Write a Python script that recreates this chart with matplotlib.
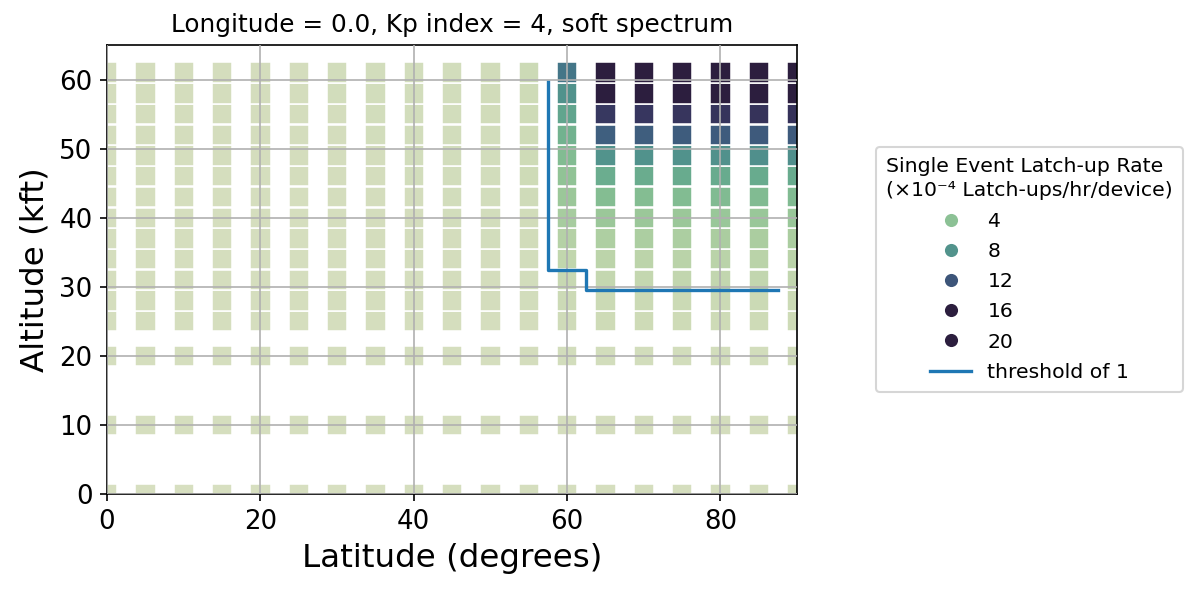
import numpy as np
import pandas as pd
import matplotlib
matplotlib.use("Agg")
import matplotlib.pyplot as plt
from matplotlib.colors import Normalize
from matplotlib.lines import Line2D
from matplotlib.ticker import MaxNLocator
import seaborn as sns

# latitude columns (degrees) and altitude rows (kft)
lats = [0, 5, 10, 15, 20, 25, 30, 35, 40, 45, 50, 55, 60, 65, 70, 75, 80, 85, 90]
alts = [0, 10, 20, 25, 28, 31, 34, 37, 40, 43, 46, 49, 52, 55, 58, 61]

# SEL rate (x1e-4 latch-ups/hr/device), one list per altitude, across lats
rate_0 = [0.05, 0.05, 0.05, 0.05, 0.05, 0.06, 0.06, 0.06, 0.07, 0.07, 0.08, 0.09, 0.11, 0.13, 0.14, 0.14, 0.15, 0.15, 0.15]
rate_10 = [0.07, 0.07, 0.07, 0.07, 0.08, 0.08, 0.09, 0.09, 0.10, 0.11, 0.12, 0.14, 0.17, 0.20, 0.21, 0.21, 0.22, 0.22, 0.22]
rate_20 = [0.09, 0.09, 0.09, 0.10, 0.10, 0.11, 0.11, 0.12, 0.13, 0.14, 0.16, 0.20, 0.26, 0.31, 0.32, 0.33, 0.33, 0.34, 0.34]
rate_25 = [0.10, 0.10, 0.10, 0.11, 0.11, 0.12, 0.13, 0.14, 0.15, 0.16, 0.18, 0.24, 0.45, 0.52, 0.53, 0.54, 0.55, 0.55, 0.56]
rate_28 = [0.11, 0.11, 0.11, 0.12, 0.12, 0.13, 0.14, 0.15, 0.16, 0.18, 0.20, 0.27, 0.68, 0.75, 0.77, 0.78, 0.79, 0.80, 0.80]
rate_31 = [0.12, 0.12, 0.12, 0.13, 0.13, 0.14, 0.15, 0.16, 0.18, 0.20, 0.22, 0.31, 0.92, 1.10, 1.12, 1.14, 1.15, 1.16, 1.16]
rate_34 = [0.13, 0.13, 0.13, 0.14, 0.14, 0.15, 0.16, 0.18, 0.19, 0.21, 0.24, 0.35, 1.30, 1.60, 1.62, 1.65, 1.66, 1.67, 1.68]
rate_37 = [0.14, 0.14, 0.14, 0.15, 0.15, 0.16, 0.17, 0.19, 0.21, 0.23, 0.26, 0.39, 1.90, 2.30, 2.34, 2.37, 2.39, 2.40, 2.41]
rate_40 = [0.15, 0.15, 0.15, 0.16, 0.16, 0.17, 0.18, 0.20, 0.22, 0.25, 0.28, 0.43, 2.60, 3.20, 3.25, 3.29, 3.32, 3.34, 3.35]
rate_43 = [0.16, 0.16, 0.16, 0.17, 0.17, 0.18, 0.19, 0.21, 0.24, 0.27, 0.30, 0.47, 3.20, 4.50, 4.56, 4.61, 4.65, 4.67, 4.68]
rate_46 = [0.17, 0.17, 0.17, 0.18, 0.18, 0.19, 0.21, 0.23, 0.25, 0.28, 0.32, 0.50, 3.80, 6.00, 6.08, 6.14, 6.19, 6.22, 6.23]
rate_49 = [0.18, 0.18, 0.18, 0.19, 0.19, 0.20, 0.22, 0.24, 0.27, 0.30, 0.34, 0.53, 4.60, 8.00, 8.10, 8.18, 8.24, 8.28, 8.30]
rate_52 = [0.19, 0.19, 0.19, 0.20, 0.20, 0.21, 0.23, 0.25, 0.28, 0.32, 0.36, 0.56, 5.60, 11.40, 11.50, 11.60, 11.70, 11.75, 11.80]
rate_55 = [0.20, 0.20, 0.20, 0.21, 0.21, 0.22, 0.24, 0.26, 0.30, 0.34, 0.38, 0.59, 6.70, 14.00, 14.10, 14.20, 14.30, 14.35, 14.40]
rate_58 = [0.21, 0.21, 0.21, 0.22, 0.22, 0.23, 0.25, 0.28, 0.31, 0.35, 0.40, 0.62, 8.10, 16.40, 16.60, 16.80, 16.90, 17.00, 17.00]
rate_61 = [0.22, 0.22, 0.22, 0.23, 0.23, 0.24, 0.26, 0.29, 0.33, 0.37, 0.42, 0.65, 10.00, 19.30, 19.60, 19.90, 20.10, 20.30, 20.40]

rates = [rate_0, rate_10, rate_20, rate_25, rate_28, rate_31, rate_34, rate_37,
         rate_40, rate_43, rate_46, rate_49, rate_52, rate_55, rate_58, rate_61]

# threshold-of-1 boundary
thr_lat = [57.5, 57.5, 62.5, 62.5, 87.5]
thr_alt = [59.7, 32.5, 32.5, 29.5, 29.5]

rows = []
for alt, row in zip(alts, rates):
    for lat, r in zip(lats, row):
        rows.append((lat, alt, r))
df = pd.DataFrame(rows, columns=["lat", "alt", "rate"])

cmap = sns.cubehelix_palette(start=.5, rot=-.75, as_cmap=True)
norm = Normalize(0, 16)

fig = plt.figure(figsize=(1196 / 150, 592 / 150), dpi=150)
ax = fig.add_subplot(111)
fig.subplots_adjust(left=0.0895, right=0.6664, top=0.924, bottom=0.1655)

ax.scatter(df["lat"], df["alt"], c=df["rate"], cmap=cmap, norm=norm,
           marker="s", s=95, edgecolor="w", linewidth=0.75)
ax.plot(thr_lat, thr_alt, color="C0", lw=1.6, zorder=3)

ax.set_xlim(0, 90)
ax.set_ylim(0, 65)
ax.grid(True)
ax.set_axisbelow(False)
ax.tick_params(labelsize=12.5)
ax.set_xlabel("Latitude (degrees)", fontsize=15.6)
ax.set_ylabel("Altitude (kft)", fontsize=15.6)
ax.set_title("Longitude = 0.0, Kp index = 4, soft spectrum", fontsize=11.9)

# brief hue legend, like seaborn does it
lo, hi = df["rate"].min(), df["rate"].max()
levels = [v for v in MaxNLocator(nbins=6).tick_values(lo, hi) if lo <= v <= hi]
handles = [Line2D([], [], ls="", marker="o", markersize=6.3, mew=0,
                  color=cmap(norm(v))) for v in levels]
labels = [f"{v:g}" for v in levels]
handles.append(Line2D([], [], color="C0", lw=1.6))
labels.append("threshold of 1")
leg = ax.legend(handles, labels, loc="center left", bbox_to_anchor=(1.1, 0.5),
                fontsize=9.8, title_fontsize=9.8, labelspacing=0.55, borderpad=0.5,
                title="Single Event Latch-up Rate\n(\u00d710\u207b\u2074 Latch-ups/hr/device)")
leg.get_title().set_linespacing(1.35)

fig.savefig("out.png", dpi=150)
